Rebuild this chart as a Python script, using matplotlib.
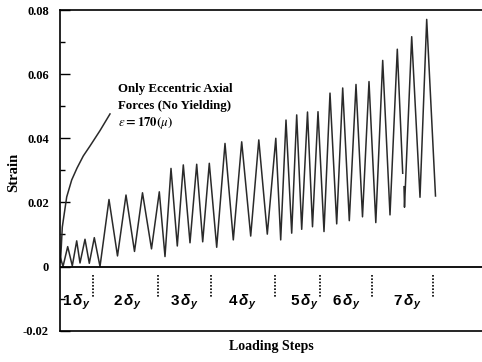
import numpy as np
import matplotlib
matplotlib.use("Agg")
import matplotlib.pyplot as plt

# ── data ─────────────────────────────────────────────────────────────────────
# loading step position (arbitrary units, 0 = left axis) and strain
step = [0.5, 3, 7.7, 12.3, 16.7, 20, 25, 29.3, 34.3, 40,
        49, 57.5, 66, 74.5, 82.5, 91.5, 99.3, 105, 111, 117.3,
        123.3, 130, 136.7, 142.7, 149.3, 156.7, 165, 173.3, 181.7, 190.7,
        198.8, 207.3, 215.8, 220.7, 226, 231.7, 236.7, 241.7, 247.5, 252.5,
        258, 264, 270, 276.7, 282.7, 289.3, 296, 302.5, 309, 315.8,
        322.7, 330, 337.3, 342.7, np.nan, 344, 344.5, 351.7, 360, 366.7, 375.5]
strain = [0.0027, 0.0, 0.0062, 0.0002, 0.0080, 0.0011, 0.0085, 0.0010, 0.0090, 0.0,
          0.0209, 0.0033, 0.0223, 0.0047, 0.0230, 0.0055, 0.0233, 0.0031, 0.0306, 0.0064,
          0.0317, 0.0074, 0.0319, 0.0077, 0.0322, 0.0060, 0.0384, 0.0083, 0.0389, 0.0095,
          0.0395, 0.0101, 0.0400, 0.0083, 0.0457, 0.0104, 0.0473, 0.0116, 0.0482, 0.0124,
          0.0483, 0.0109, 0.0541, 0.0133, 0.0557, 0.0143, 0.0568, 0.0155, 0.0577, 0.0137,
          0.0643, 0.0161, 0.0678, 0.0291, np.nan, 0.0249, 0.0185, 0.0717, 0.0216, 0.0771, 0.0220]

# eccentric axial force only branch
ecc_step = [0.5, 2.3, 6.7, 11.7, 17, 23.3, 30, 40, 50]
ecc_strain = [0.0014, 0.0123, 0.0217, 0.0270, 0.0307, 0.0345, 0.0376, 0.0424, 0.0476]

# ductility levels
level_labels = ["1", "2", "3", "4", "5", "6", "7"]
level_centers = [16, 67, 124, 182, 244, 286, 347]
level_bounds = [33, 98, 151, 215, 260, 312, 373]

yticks = [-0.02, 0, 0.02, 0.04, 0.06, 0.08]
ytick_labels = ["-0.02", "0", "0.02", "0.04", "0.06", "0.08"]

# ── plot ─────────────────────────────────────────────────────────────────────
serif = ["Liberation Serif", "DejaVu Serif"]
plt.rcParams["mathtext.fontset"] = "custom"
plt.rcParams["mathtext.rm"] = "Liberation Sans:bold"
plt.rcParams["mathtext.bf"] = "Liberation Sans:bold"
plt.rcParams["mathtext.it"] = "Liberation Sans:bold:italic"

fig = plt.figure(figsize=(4.82, 3.62), dpi=100)
ax = fig.add_axes([60 / 482, 31.4 / 362, 422 / 482, 320.5 / 362])

ax.plot(step, strain, color="#2a2a2a", linewidth=1.1)
ax.plot(ecc_step, ecc_strain, color="#2a2a2a", linewidth=1.1)
ax.axhline(0, color="black", linewidth=1.3)

for xb in level_bounds:
    ax.plot([xb, xb], [-0.0027, -0.0098], color="black",
            linestyle=(0, (1, 1)), linewidth=1.2)
for lab, xc in zip(level_labels, level_centers):
    ax.text(xc, -0.0112, rf"${lab}\,\delta_{{y}}$", ha="center", va="center",
            fontsize=11, math_fontfamily="custom")

ax.text(58, 0.0555, "Only Eccentric Axial", family=serif, fontweight="bold",
        fontsize=9.3, va="center")
ax.text(58, 0.0502, "Forces (No Yielding)", family=serif, fontweight="bold",
        fontsize=9.3, va="center")
ax.text(58, 0.0448, r"$\varepsilon\mathbf{{=}170(}\mu\mathbf{)}$", fontsize=9.3,
        va="center", math_fontfamily="stix")

ax.set_xlim(0, 422)
ax.set_ylim(-0.02, 0.08)
ax.set_xticks([])
ax.set_yticks(yticks)
ax.set_yticklabels(ytick_labels, family=serif, fontweight="bold", fontsize=9)
ax.set_yticks(np.arange(-0.01, 0.08, 0.02), minor=True)
ax.tick_params(axis="y", which="major", direction="in", length=7, width=1, pad=8)
ax.tick_params(axis="y", which="minor", direction="in", length=3.5, width=1)

ax.spines["right"].set_visible(False)
for side in ["left", "top", "bottom"]:
    ax.spines[side].set_linewidth(1.2)

fig.text(14 / 482, 1 - 172 / 362, "Strain", rotation=90, ha="center", va="center",
         family=serif, fontweight="bold", fontsize=10.5)
ax.set_xlabel("Loading Steps", family=serif, fontweight="bold", fontsize=10,
              labelpad=7)

fig.savefig("out.png", dpi=100)
